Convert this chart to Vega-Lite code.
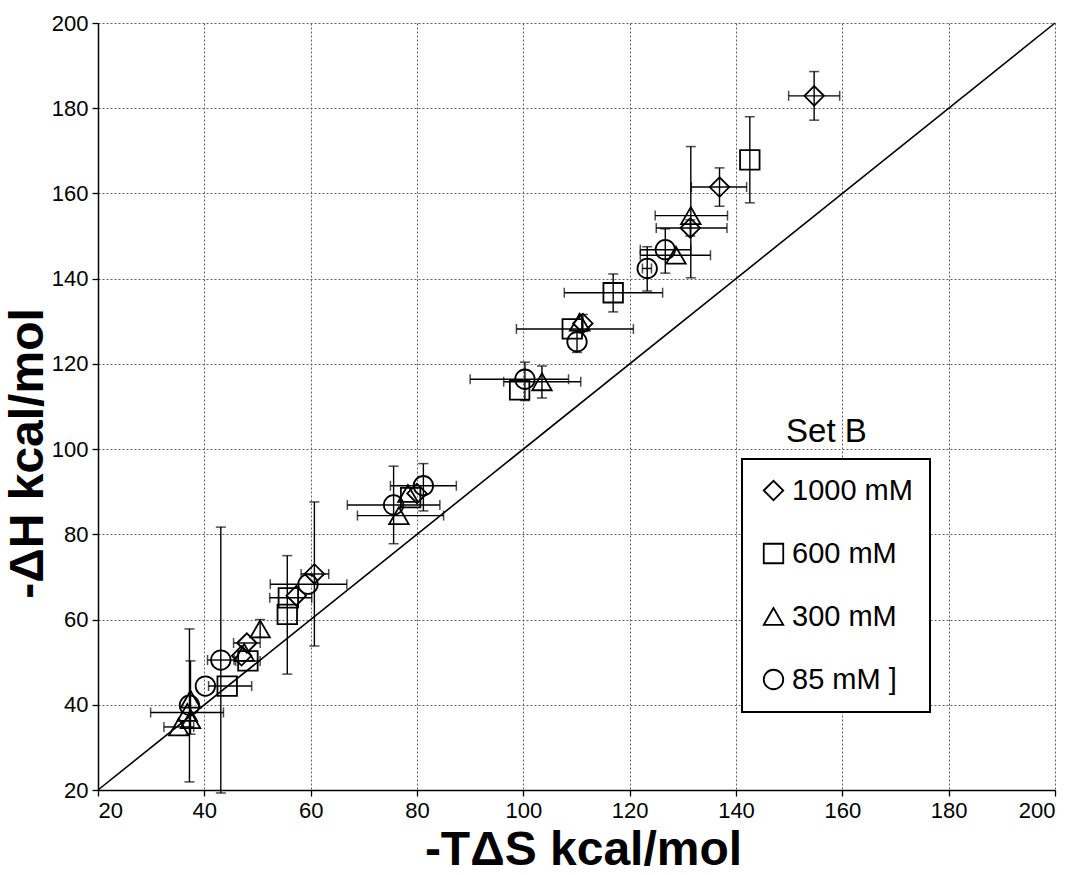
{
  "$schema": "https://vega.github.io/schema/vega-lite/v6.json",
  "width": 957,
  "height": 767,
  "autosize": {"type": "none"},
  "padding": {"left": 98, "top": 23, "right": 25, "bottom": 85},
  "background": "white",
  "config": {
    "view": {"stroke": null},
    "font": "Liberation Sans",
    "axis": {
      "domainColor": "black",
      "domainWidth": 1.5,
      "tickColor": "black",
      "tickWidth": 1.3,
      "tickSize": 6,
      "labelFont": "Liberation Sans",
      "labelFontSize": 22,
      "labelColor": "black",
      "labelPadding": 4,
      "gridColor": "#5f5f5f",
      "gridDash": [2, 2],
      "gridWidth": 1,
      "titleFont": "Liberation Sans",
      "titleFontSize": 48,
      "titleFontWeight": "bold",
      "titleColor": "black"
    },
    "legend": {
      "orient": "none",
      "legendX": 644,
      "legendY": 436,
      "strokeColor": "black",
      "strokeWidth": 2,
      "fillColor": "white",
      "padding": 17,
      "labelFont": "Liberation Sans",
      "labelFontSize": 29,
      "labelColor": "black",
      "labelLimit": 300,
      "labelOffset": 4,
      "rowPadding": 33,
      "symbolSize": 380,
      "symbolStrokeWidth": 1.8,
      "symbolStrokeColor": "black",
      "symbolFillColor": "white"
    }
  },
  "datasets": {
    "pts": [
      {"c": "1000 mM", "x": 154.7, "y": 182.9, "xlo": 149.9, "xhi": 159.5, "ylo": 177.2, "yhi": 188.6},
      {"c": "1000 mM", "x": 136.9, "y": 161.5, "xlo": 131.6, "xhi": 142.0, "ylo": 157.0, "yhi": 166.0},
      {"c": "1000 mM", "x": 131.4, "y": 151.9, "xlo": 125.0, "xhi": 138.3, "ylo": 150.0, "yhi": 153.8},
      {"c": "1000 mM", "x": 111.2, "y": 129.5, "xlo": null, "xhi": null, "ylo": 127.6, "yhi": 131.6},
      {"c": "1000 mM", "x": 80.0, "y": 89.6, "xlo": null, "xhi": null, "ylo": null, "yhi": null},
      {"c": "1000 mM", "x": 60.7, "y": 70.7, "xlo": 58.2, "xhi": 63.4, "ylo": 53.8, "yhi": 87.6},
      {"c": "1000 mM", "x": 57.3, "y": 65.6, "xlo": null, "xhi": null, "ylo": null, "yhi": null},
      {"c": "1000 mM", "x": 48.0, "y": 54.5, "xlo": 45.5, "xhi": 50.5, "ylo": null, "yhi": null},
      {"c": "1000 mM", "x": 47.0, "y": 51.5, "xlo": null, "xhi": null, "ylo": null, "yhi": null},

      {"c": "600 mM", "x": 142.6, "y": 167.9, "xlo": null, "xhi": null, "ylo": 157.8, "yhi": 178.0},
      {"c": "600 mM", "x": 116.9, "y": 136.7, "xlo": 107.7, "xhi": 126.2, "ylo": 132.2, "yhi": 141.1},
      {"c": "600 mM", "x": 109.2, "y": 128.2, "xlo": 98.7, "xhi": 120.7, "ylo": null, "yhi": null},
      {"c": "600 mM", "x": 99.3, "y": 113.9, "xlo": null, "xhi": null, "ylo": null, "yhi": null},
      {"c": "600 mM", "x": 78.8, "y": 88.6, "xlo": null, "xhi": null, "ylo": null, "yhi": null},
      {"c": "600 mM", "x": 55.8, "y": 65.1, "xlo": 52.3, "xhi": 60.2, "ylo": null, "yhi": null},
      {"c": "600 mM", "x": 55.6, "y": 61.2, "xlo": null, "xhi": null, "ylo": 47.2, "yhi": 75.0},
      {"c": "600 mM", "x": 48.2, "y": 50.3, "xlo": 45.9, "xhi": 50.5, "ylo": null, "yhi": null},
      {"c": "600 mM", "x": 44.3, "y": 44.4, "xlo": 40.8, "xhi": 48.9, "ylo": null, "yhi": null},

      {"c": "300 mM", "x": 131.5, "y": 154.8, "xlo": 124.8, "xhi": 138.4, "ylo": 140.2, "yhi": 171.0},
      {"c": "300 mM", "x": 128.7, "y": 145.5, "xlo": 122.0, "xhi": 135.2, "ylo": null, "yhi": null},
      {"c": "300 mM", "x": 110.6, "y": 129.8, "xlo": null, "xhi": null, "ylo": null, "yhi": null},
      {"c": "300 mM", "x": 103.5, "y": 115.8, "xlo": 96.3, "xhi": 110.8, "ylo": 112.0, "yhi": 119.5},
      {"c": "300 mM", "x": 78.3, "y": 89.6, "xlo": null, "xhi": null, "ylo": null, "yhi": null},
      {"c": "300 mM", "x": 76.6, "y": 84.4, "xlo": 68.8, "xhi": 85.0, "ylo": null, "yhi": null},
      {"c": "300 mM", "x": 50.5, "y": 57.8, "xlo": null, "xhi": null, "ylo": 55.8, "yhi": 60.0},
      {"c": "300 mM", "x": 47.5, "y": 52.3, "xlo": null, "xhi": null, "ylo": null, "yhi": null},
      {"c": "300 mM", "x": 37.4, "y": 41.3, "xlo": null, "xhi": null, "ylo": 33.1, "yhi": 50.3},
      {"c": "300 mM", "x": 36.8, "y": 38.2, "xlo": 29.9, "xhi": 43.6, "ylo": null, "yhi": null},
      {"c": "300 mM", "x": 35.2, "y": 34.8, "xlo": 32.4, "xhi": 38.0, "ylo": null, "yhi": null},
      {"c": "300 mM", "x": 37.4, "y": 36.5, "xlo": null, "xhi": null, "ylo": null, "yhi": null},

      {"c": "85 mM ]", "x": 126.7, "y": 146.8, "xlo": 122.0, "xhi": 131.5, "ylo": 141.3, "yhi": 151.7},
      {"c": "85 mM ]", "x": 123.3, "y": 142.4, "xlo": 122.4, "xhi": 124.1, "ylo": 137.1, "yhi": 147.5},
      {"c": "85 mM ]", "x": 110.1, "y": 125.2, "xlo": null, "xhi": null, "ylo": 122.7, "yhi": 127.8},
      {"c": "85 mM ]", "x": 100.3, "y": 116.4, "xlo": 90.0, "xhi": 108.5, "ylo": 111.4, "yhi": 120.4},
      {"c": "85 mM ]", "x": 81.2, "y": 91.4, "xlo": 75.0, "xhi": 87.4, "ylo": 85.5, "yhi": 96.6},
      {"c": "85 mM ]", "x": 75.6, "y": 86.9, "xlo": 66.9, "xhi": 84.3, "ylo": 77.8, "yhi": 96.0},
      {"c": "85 mM ]", "x": 59.5, "y": 68.3, "xlo": 52.4, "xhi": 66.8, "ylo": null, "yhi": null},
      {"c": "85 mM ]", "x": 43.1, "y": 50.5, "xlo": 40.6, "xhi": 45.6, "ylo": 19.3, "yhi": 81.7},
      {"c": "85 mM ]", "x": 40.2, "y": 44.4, "xlo": null, "xhi": null, "ylo": null, "yhi": null},
      {"c": "85 mM ]", "x": 37.2, "y": 39.9, "xlo": null, "xhi": null, "ylo": 21.9, "yhi": 57.8}
    ],
    "diag": [{"x": 20, "y": 20}, {"x": 200, "y": 200}],
    "note": [{"x": 157, "y": 104, "t": "Set B"}]
  },
  "layer": [
    {
      "data": {"name": "diag"},
      "mark": {"type": "line", "color": "black", "strokeWidth": 1.6},
      "encoding": {
        "x": {
          "field": "x", "type": "quantitative",
          "scale": {"domain": [20, 200], "nice": false},
          "title": "-T\u0394S kcal/mol",
          "axis": {
            "values": [20, 40, 60, 80, 100, 120, 140, 160, 180, 200],
            "titleX": 485, "titleY": 60, "titleBaseline": "middle", "titleAlign": "center"
          }
        },
        "y": {
          "field": "y", "type": "quantitative",
          "scale": {"domain": [20, 200], "nice": false},
          "title": "-\u0394H kcal/mol",
          "axis": {
            "values": [20, 40, 60, 80, 100, 120, 140, 160, 180, 200],
            "titleX": -70, "titleY": 430, "titleBaseline": "middle", "titleAlign": "center", "titleAngle": -90
          }
        }
      }
    },
    {
      "data": {"name": "pts"},
      "transform": [{"filter": "isValid(datum.ylo)"}],
      "mark": {"type": "rule", "color": "black", "strokeWidth": 1.4},
      "encoding": {
        "x": {"field": "x", "type": "quantitative", "scale": {"domain": [20, 200]}},
        "y": {"field": "ylo", "type": "quantitative", "scale": {"domain": [20, 200]}},
        "y2": {"field": "yhi"}
      }
    },
    {
      "data": {"name": "pts"},
      "transform": [{"filter": "isValid(datum.xlo)"}],
      "mark": {"type": "rule", "color": "black", "strokeWidth": 1.4},
      "encoding": {
        "x": {"field": "xlo", "type": "quantitative", "scale": {"domain": [20, 200]}},
        "x2": {"field": "xhi"},
        "y": {"field": "y", "type": "quantitative", "scale": {"domain": [20, 200]}}
      }
    },
    {
      "data": {"name": "pts"},
      "transform": [
        {"fold": ["ylo", "yhi"], "as": ["end", "yend"]},
        {"filter": "isValid(datum.yend)"}
      ],
      "mark": {"type": "tick", "orient": "horizontal", "color": "black", "size": 10, "thickness": 1.5},
      "encoding": {
        "x": {"field": "x", "type": "quantitative", "scale": {"domain": [20, 200]}},
        "y": {"field": "yend", "type": "quantitative", "scale": {"domain": [20, 200]}}
      }
    },
    {
      "data": {"name": "pts"},
      "transform": [
        {"fold": ["xlo", "xhi"], "as": ["end", "xend"]},
        {"filter": "isValid(datum.xend)"}
      ],
      "mark": {"type": "tick", "orient": "vertical", "color": "black", "size": 10, "thickness": 1.5},
      "encoding": {
        "x": {"field": "xend", "type": "quantitative", "scale": {"domain": [20, 200]}},
        "y": {"field": "y", "type": "quantitative", "scale": {"domain": [20, 200]}}
      }
    },
    {
      "data": {"name": "pts"},
      "mark": {"type": "point", "filled": false, "color": "black", "strokeWidth": 1.8, "size": 380, "opacity": 1},
      "encoding": {
        "x": {"field": "x", "type": "quantitative", "scale": {"domain": [20, 200]}},
        "y": {"field": "y", "type": "quantitative", "scale": {"domain": [20, 200]}},
        "shape": {
          "field": "c", "type": "nominal",
          "scale": {
            "domain": ["1000 mM", "600 mM", "300 mM", "85 mM ]"],
            "range": ["diamond", "square", "triangle-up", "circle"]
          },
          "legend": {"title": null}
        }
      }
    },
    {
      "data": {"name": "note"},
      "mark": {"type": "text", "font": "Liberation Sans", "fontSize": 33, "color": "black", "align": "center", "baseline": "middle"},
      "encoding": {
        "x": {"field": "x", "type": "quantitative", "scale": {"domain": [20, 200]}},
        "y": {"field": "y", "type": "quantitative", "scale": {"domain": [20, 200]}},
        "text": {"field": "t"}
      }
    }
  ]
}
